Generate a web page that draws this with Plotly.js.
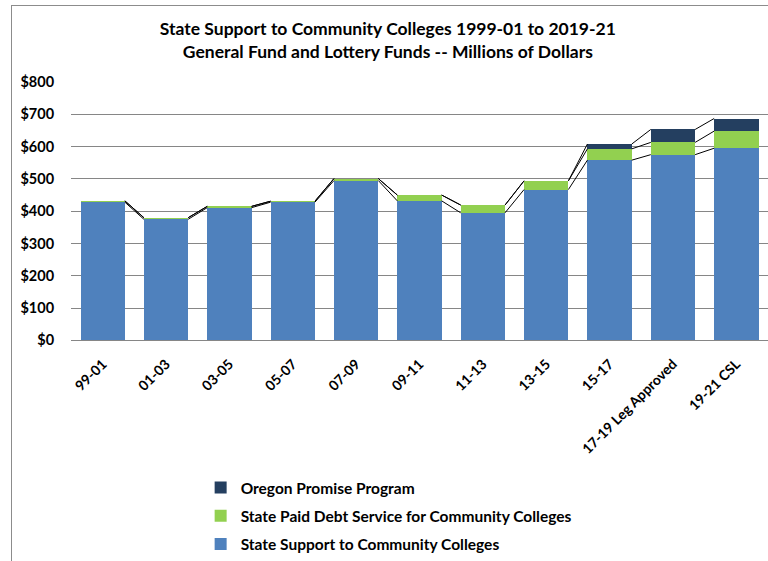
<!DOCTYPE html>
<html>
<head>
<meta charset="utf-8">
<script src="https://cdn.plot.ly/plotly-3.0.1.min.js"></script>
<style>
html,body{margin:0;padding:0;width:768px;height:561px;overflow:hidden;background:#fff;}
#chart{position:absolute;left:0;top:0;width:768px;height:561px;}
#frame{position:absolute;left:11px;top:5px;width:800px;height:600px;border:1px solid #8c8c8c;pointer-events:none;}
</style>
</head>
<body>
<div id="chart"></div>
<div id="frame"></div>
<script>
const categories = ['99-01','01-03','03-05','05-07','07-09','09-11','11-13','13-15','15-17','17-19 Leg Approved','19-21 CSL'];
const stateSupport = [428, 375, 411, 428, 495, 432, 395, 467, 558, 575, 595];
const debtService = [4, 5, 4, 3, 6, 18, 24, 27, 35, 38, 53];
const oregonPromise = [0, 0, 0, 0, 0, 0, 0, 0, 15, 40, 39];

const seriesNames = ['State Support to Community Colleges','State Paid Debt Service for Community Colleges','Oregon Promise Program'];
const seriesColors = ['#4F81BD','#92D050','#243F60'];
const seriesValues = [stateSupport, debtService, oregonPromise];

const xIdx = categories.map((c,i)=>i);
const FONT = 'Lato, "Open Sans", sans-serif';
const barWidth = 0.7;
const hw = barWidth/2;

const traces = [];
seriesValues.forEach((vals, s) => {
  traces.push({
    type:'bar', x:xIdx, y:vals, name:'<b>'+seriesNames[s]+'</b>',
    marker:{color:seriesColors[s], line:{width:0}},
    width:barWidth, legendgroup:'g'+s, legendrank:3-s, hoverinfo:'y'
  });
});

// series lines connecting cumulative tops
let cum = categories.map(()=>0);
seriesValues.forEach((vals, s) => {
  cum = cum.map((c,i)=>c+vals[i]);
  const lx = [], ly = [];
  for (let i=0;i<categories.length-1;i++){
    lx.push(i+hw, i+1-hw, null);
    ly.push(cum[i], cum[i+1], null);
  }
  traces.push({type:'scatter', mode:'lines', x:lx, y:ly, line:{color:'#000', width:1}, showlegend:false, hoverinfo:'skip'});
});

const yTicks = [0,100,200,300,400,500,600,700,800];

const layout = {
  width:768, height:561,
  margin:{l:71, r:0, t:82, b:0},
  paper_bgcolor:'#fff', plot_bgcolor:'#fff',
  barmode:'stack',
  font:{family:FONT, color:'#000', size:13},
  title:{text:'<b>State Support to Community Colleges 1999-01 to 2019-21<br>General Fund and Lottery Funds -- Millions of Dollars</b>',
    font:{family:FONT, size:17.5, color:'#000'}, x:0.505, xanchor:'center', y:0.937, yanchor:'top'},
  xaxis:{type:'linear', range:[-0.5,10.5], tickvals:xIdx, ticktext:categories.map(c=>'<b>'+c+'</b>'),
    tickangle:-45, showgrid:false, zeroline:false, showline:true, linecolor:'#868686', linewidth:1,
    ticks:'outside', ticklen:9, tickcolor:'rgba(0,0,0,0)', tickfont:{family:FONT, size:14, color:'#000'}, fixedrange:true, automargin:false},
  yaxis:{domain:[0.456,1], range:[0,800], tickvals:yTicks, ticktext:yTicks.map(v=>'<b>$'+v+'</b>'), showgrid:true, gridcolor:'#868686', gridwidth:1,
    zeroline:true, zerolinecolor:'#868686', showline:false, ticks:'outside', ticklen:13, tickcolor:'rgba(0,0,0,0)',
    tickfont:{family:FONT, size:14.5, color:'#000'}, fixedrange:true, automargin:false},
  legend:{orientation:'v', traceorder:'grouped', x:0.186, xanchor:'left', y:0.1806, yanchor:'top',
    font:{family:FONT, size:15.5, color:'#000'}, tracegroupgap:5, bgcolor:'rgba(0,0,0,0)'},
  showlegend:true
};

Plotly.newPlot('chart', traces, layout, {displayModeBar:false, staticPlot:true});
</script>
</body>
</html>
